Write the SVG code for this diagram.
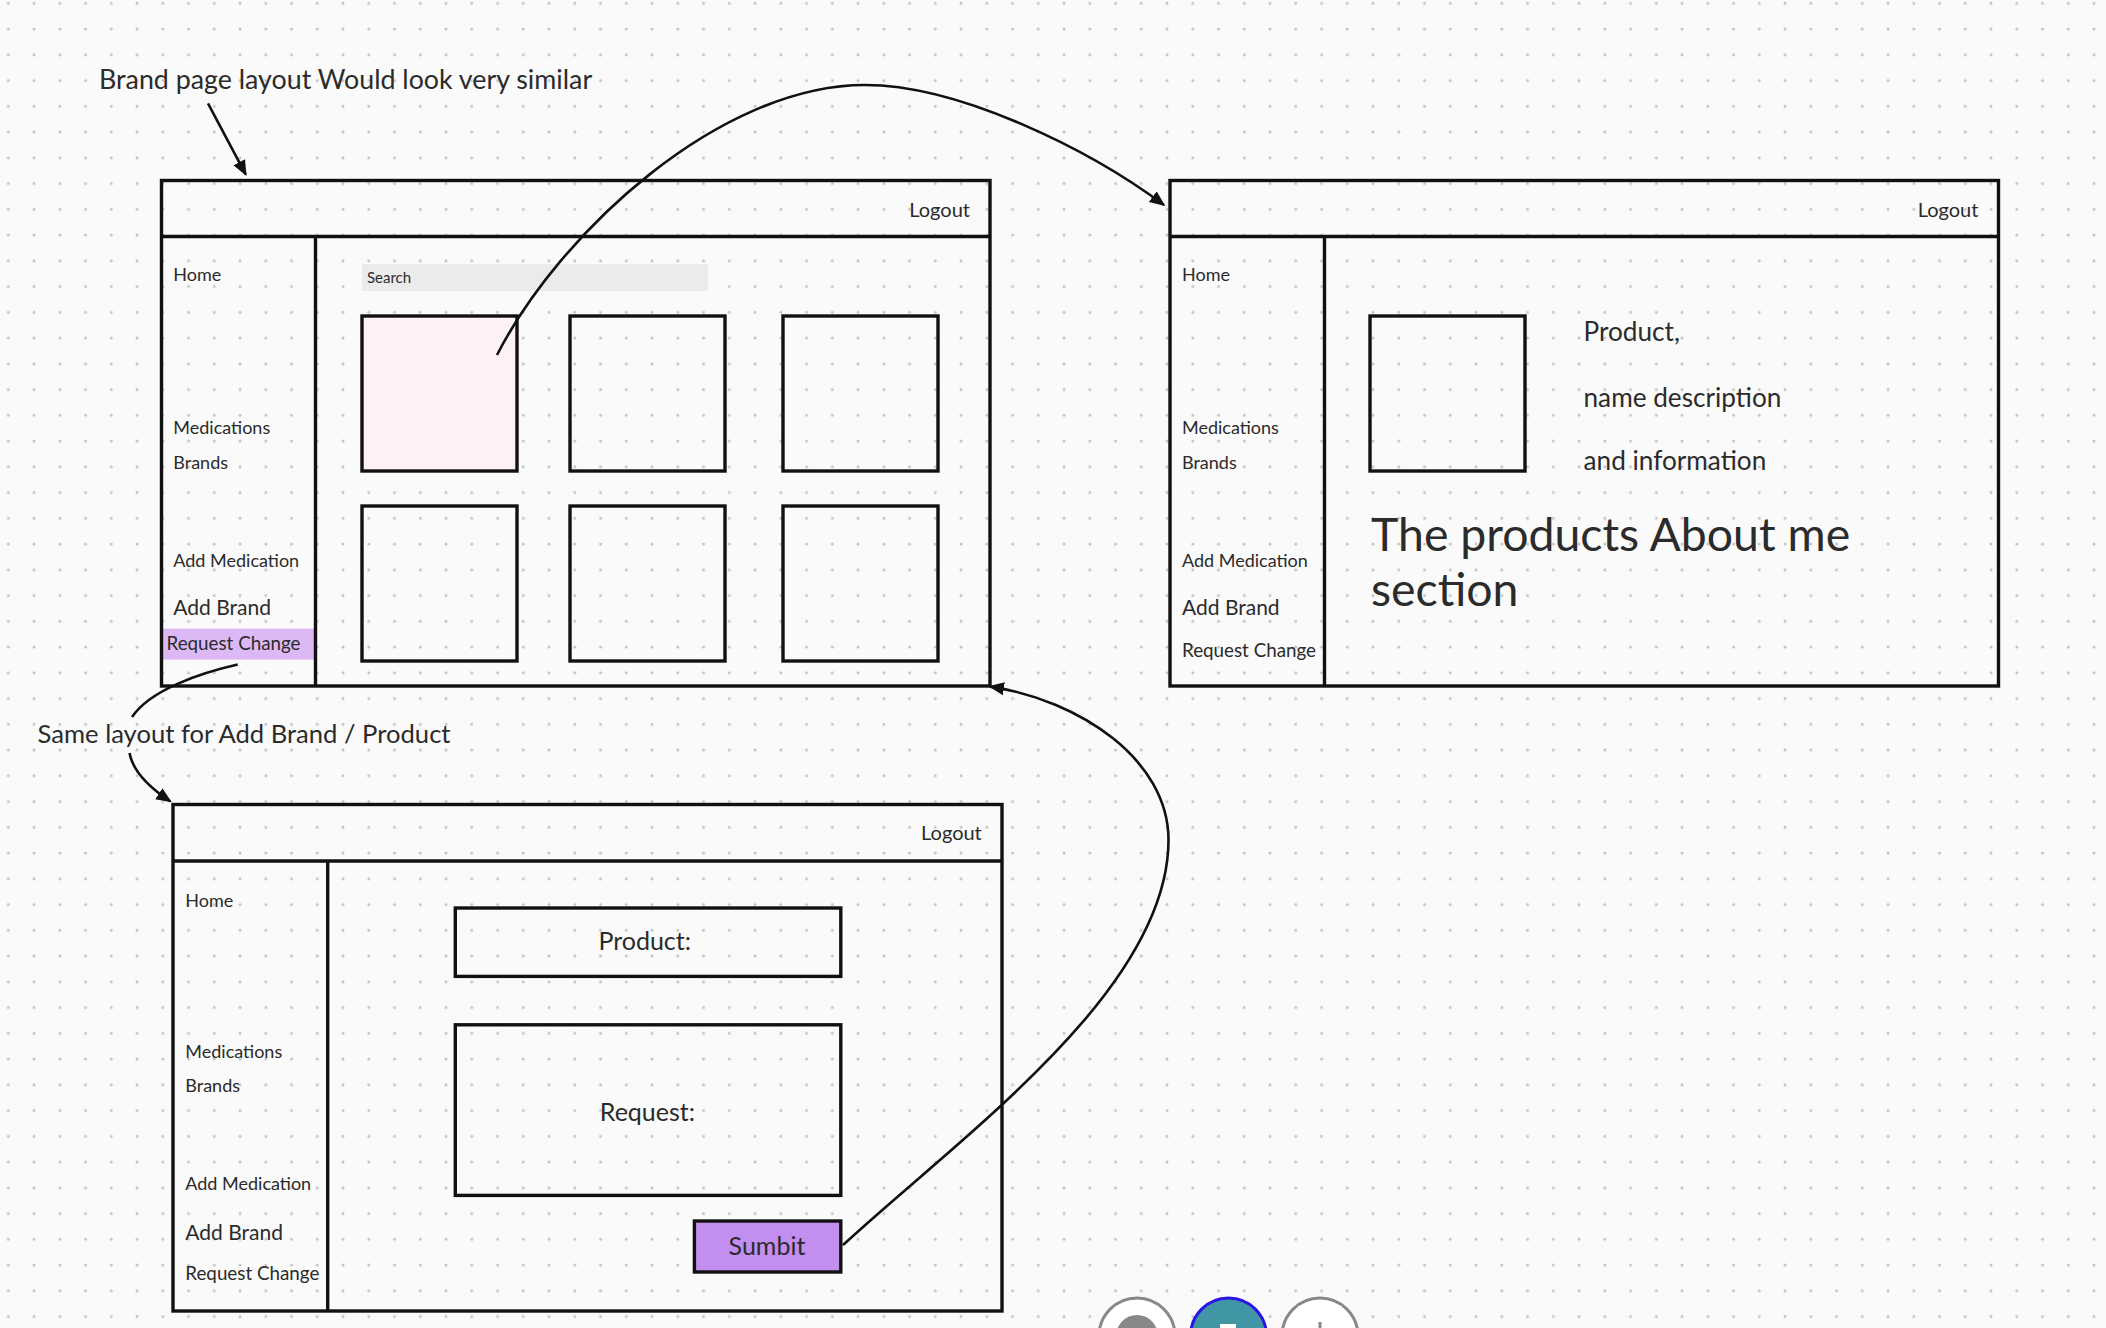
<svg xmlns="http://www.w3.org/2000/svg" width="2106" height="1328" viewBox="0 0 2106 1328">
<style>
.t{font-family:Lato,"Liberation Sans",sans-serif;fill:#2b2b2b;dominant-baseline:central}
.side{font-size:18px}
.rc{font-size:18.8px}
.ab{font-size:21px}
.lo{font-size:20px;text-anchor:end}
.note{font-size:26px}
.frame{fill:none;stroke:#111;stroke-width:3.4}
.ln{stroke:#111;stroke-width:3.4;fill:none}
.box{fill:none;stroke:#111;stroke-width:3.4}
.con{fill:none;stroke:#111;stroke-width:2.6}
</style>
<defs>
<pattern id="dots" patternUnits="userSpaceOnUse" x="-4.575" y="-9.575" width="25.75" height="25.75">
<circle cx="12.875" cy="12.875" r="1.5" fill="#c2c2c2"/>
</pattern>
<marker id="ah" viewBox="0 0 10 10" refX="9" refY="5" markerWidth="6" markerHeight="6" markerUnits="strokeWidth" orient="auto">
<path d="M0,0.8 L10,5 L0,9.2 Z" fill="#111"/>
</marker>
</defs>
<rect width="2106" height="1328" fill="#fafafa"/>
<rect width="2106" height="1328" fill="url(#dots)"/>

<g id="note-brand">
<text class="t" style="font-size:26.8px" x="99" y="79">Brand page layout Would look very similar</text>
</g>
<g id="note-same">
<text class="t" style="font-size:25.6px" x="37.6" y="733">Same layout for Add Brand / Product</text>
</g>

<g id="frame-list">
<rect x="161.5" y="628.6" width="154" height="31" fill="#dcb9f5"/>
<rect x="362" y="264" width="346" height="27" fill="#ebebeb"/>
<text class="t" style="font-size:15px" x="367" y="277">Search</text>
<rect class="box" x="362" y="316" width="155" height="155" style="fill:#fdf0f7"/>
<rect class="box" x="570" y="316" width="155" height="155"/>
<rect class="box" x="783" y="316" width="155" height="155"/>
<rect class="box" x="362" y="506" width="155" height="155"/>
<rect class="box" x="570" y="506" width="155" height="155"/>
<rect class="box" x="783" y="506" width="155" height="155"/>
<rect class="frame" x="161.5" y="180.5" width="828.5" height="505.5"/>
<line class="ln" x1="161.5" y1="236.5" x2="990" y2="236.5"/>
<line class="ln" x1="315.5" y1="236.5" x2="315.5" y2="686"/>
<text class="t lo" x="970" y="209">Logout</text>
<text class="t side" x="173.3" y="273.5">Home</text>
<text class="t side" x="173.3" y="426.5">Medications</text>
<text class="t side" x="173.3" y="461.5">Brands</text>
<text class="t side" x="173.3" y="559.5">Add Medication</text>
<text class="t ab" x="173.3" y="606.5">Add Brand</text>
<text class="t rc" x="166.5" y="642.5">Request Change</text>
</g>

<g id="frame-detail">
<rect class="frame" x="1170" y="180.5" width="828.5" height="505.5"/>
<line class="ln" x1="1170" y1="236.5" x2="1998.5" y2="236.5"/>
<line class="ln" x1="1324.5" y1="236.5" x2="1324.5" y2="686"/>
<text class="t lo" x="1978.4" y="209">Logout</text>
<text class="t side" x="1182" y="273.5">Home</text>
<text class="t side" x="1182" y="426.5">Medications</text>
<text class="t side" x="1182" y="461.5">Brands</text>
<text class="t side" x="1182" y="559.5">Add Medication</text>
<text class="t ab" x="1182" y="606.5">Add Brand</text>
<text class="t rc" x="1182" y="649.5">Request Change</text>
<rect class="box" x="1370" y="316" width="155" height="155"/>
<text class="t" style="font-size:26.2px" x="1583.5" y="331">Product,</text>
<text class="t" style="font-size:26.2px" x="1583.5" y="397">name description</text>
<text class="t" style="font-size:26.2px" x="1583.5" y="460">and information</text>
<text class="t" style="font-size:46.4px" x="1371" y="533">The products About me</text>
<text class="t" style="font-size:46.4px" x="1371" y="588">section</text>
</g>

<g id="frame-request">
<rect class="frame" x="173" y="804.5" width="829" height="506.5"/>
<line class="ln" x1="173" y1="861" x2="1002" y2="861"/>
<line class="ln" x1="327.7" y1="861" x2="327.7" y2="1311"/>
<text class="t lo" x="981.8" y="832.2">Logout</text>
<text class="t side" x="185.3" y="899.5">Home</text>
<text class="t side" x="185.3" y="1051">Medications</text>
<text class="t side" x="185.3" y="1084.7">Brands</text>
<text class="t side" x="185.3" y="1182.8">Add Medication</text>
<text class="t ab" x="185.3" y="1231">Add Brand</text>
<text class="t rc" x="185.3" y="1272.8">Request Change</text>
<rect class="box" x="455.3" y="908" width="385.5" height="68.4"/>
<text class="t" style="font-size:25px;text-anchor:middle" x="644.7" y="940">Product:</text>
<rect class="box" x="455.3" y="1024.8" width="385.5" height="170.6"/>
<text class="t" style="font-size:25px;text-anchor:middle" x="647.4" y="1110.5">Request:</text>
<g id="btn-submit">
<rect x="694.4" y="1221" width="146.4" height="51" fill="#c28ef0" stroke="#111" stroke-width="3.4"/>
<text class="t" style="font-size:25px;text-anchor:middle" x="767" y="1245">Sumbit</text>
</g>
</g>

<g id="connectors">
<path class="con" d="M208,103.4 L245.8,174.6" marker-end="url(#ah)"/>
<path class="con" d="M497,355 C560,232 720,85 865,85 C960,85 1090,150 1164,205" marker-end="url(#ah)"/>
<path class="con" d="M237.7,664.5 C200,673 150,690 132,717"/>
<path class="con" d="M129.5,753 C133,772 150,788 170.5,801.5" marker-end="url(#ah)"/>
<path class="con" d="M843,1245 C960,1137 1168.5,990 1168.5,840 C1168.5,760 1080,700 990,686.6" marker-end="url(#ah)"/>
</g>

<g id="toolbar">
<circle cx="1137" cy="1336" r="38" fill="#fff" stroke="#888" stroke-width="3"/>
<circle cx="1137" cy="1336" r="21" fill="#888"/>
<circle cx="1228.5" cy="1336" r="38" fill="#4196a5" stroke="#2a14e6" stroke-width="3"/>
<rect x="1220" y="1324" width="16" height="6" fill="#fff"/>
<circle cx="1320" cy="1336" r="38" fill="#fff" stroke="#888" stroke-width="3"/>
<line x1="1320" y1="1322" x2="1320" y2="1328" stroke="#888" stroke-width="3"/>
</g>
</svg>
